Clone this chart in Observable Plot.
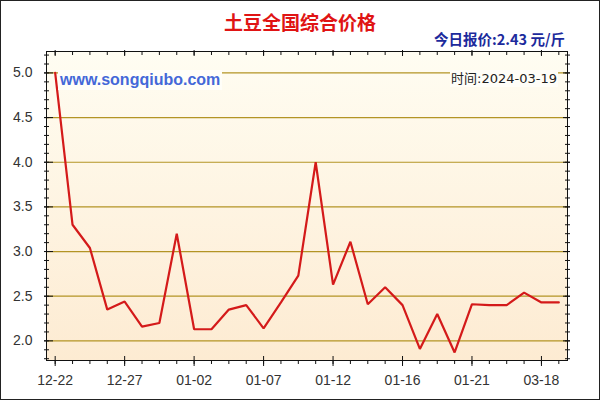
<!DOCTYPE html>
<html><head><meta charset="utf-8">
<script src="https://cdn.jsdelivr.net/npm/d3@7"></script>
<script src="https://cdn.jsdelivr.net/npm/@observablehq/plot@0.6"></script>
<style>
body{margin:0;background:#fff;}
#wrap{position:relative;width:600px;height:400px;overflow:hidden;background:#fff;font-family:"Liberation Sans",Arial,sans-serif;}
#chart{position:absolute;left:0;top:0;}
.abs{position:absolute;white-space:nowrap;}
#title{left:0;width:600px;top:10px;text-align:center;font:bold 19px "Noto Sans CJK SC",sans-serif;color:#e01414;line-height:24px;}
#sub{right:35px;top:29px;font:bold 14.5px "Noto Sans CJK SC","Liberation Sans",sans-serif;color:#1c2a9c;line-height:20px;}
#www{left:58px;top:70px;padding:0 2px;background:#fffef8;font:bold 16px "Liberation Sans",Arial,sans-serif;color:#4468d8;line-height:20px;}
#time{right:42px;top:70px;padding:0 1px;background:#fffef8;font:13px "DejaVu Sans","Noto Sans CJK SC",sans-serif;color:#222;line-height:17px;}
#border{position:absolute;left:0;top:0;width:598px;height:398px;border:1px solid #222;pointer-events:none;}
</style></head><body>
<div id="wrap">
  <div id="chart"></div>
  <div id="title" class="abs"></div>
  <div id="sub" class="abs"></div>
  <div id="www" class="abs"></div>
  <div id="time" class="abs"></div>
  <div id="border"></div>
</div>
<script>
const titleText = "土豆全国综合价格";
const siteText = "www.songqiubo.com";
const todayPrice = 2.43;
const dateStr = "2024-03-19";
const tickLabels = ["12-22","12-27","01-02","01-07","01-12","01-16","01-21","03-18"];
const prices = [5.00,3.30,3.04,2.35,2.44,2.16,2.20,3.20,2.13,2.13,
                2.35,2.40,2.14,2.43,2.73,4.00,2.63,3.11,2.41,2.60,
                2.40,1.91,2.30,1.87,2.41,2.40,2.40,2.54,2.43,2.43];
const labelStep = 4;
const yMajor = [2.0,2.5,3.0,3.5,4.0,4.5,5.0];
const yMinor = d3.range(18, 53).map(d => d / 10);

document.getElementById("title").textContent = titleText;
document.getElementById("sub").textContent = "今日报价:" + todayPrice.toFixed(2) + " 元/斤";
document.getElementById("www").textContent = siteText;
document.getElementById("time").textContent = "时间:" + dateStr;

const data = prices.map((v, i) => ({i, v}));
const xAll = d3.range(prices.length);
const xMajor = xAll.filter(i => i % labelStep === 0);
const gridColor = "#b39424";
const empty = () => "";

const plot = Plot.plot({
  width: 600, height: 400,
  marginLeft: 46, marginRight: 33, marginTop: 51, marginBottom: 40,
  x: {domain: [-0.5, prices.length - 0.5]},
  y: {domain: [1.78, 5.24]},
  style: {fontFamily: '"Liberation Sans",Arial,sans-serif', fontSize: "14px", color: "#333", background: "transparent", overflow: "visible"},
  marks: [
    Plot.frame({fill: "url(#bgGrad)", stroke: null}),
    Plot.gridY(yMajor, {stroke: gridColor, strokeOpacity: 1, strokeWidth: 1.2}),
    Plot.lineY(data, {x: "i", y: "v", stroke: "#d41a1a", strokeWidth: 2.2, strokeLinejoin: "miter"}),
    Plot.frame({stroke: "#111", strokeWidth: 1}),
    // left ticks
    Plot.axisY(yMinor, {anchor: "left", tickSize: 5, dx: 3, tickFormat: empty, label: null, stroke: "#111"}),
    Plot.axisY(yMajor, {anchor: "left", tickSize: 9, dx: 7, tickFormat: empty, label: null, stroke: "#111"}),
    Plot.axisY(yMajor, {anchor: "left", tickSize: 0, tickPadding: 14, tickFormat: d => d.toFixed(1), label: null, fill: "#333"}),
    // right ticks
    Plot.axisY(yMinor, {anchor: "right", tickSize: 5, dx: -3, tickFormat: empty, label: null, stroke: "#111"}),
    Plot.axisY(yMajor, {anchor: "right", tickSize: 7, dx: -5, tickFormat: empty, label: null, stroke: "#111"}),
    // bottom ticks
    Plot.axisX(xAll, {anchor: "bottom", tickSize: 4, tickFormat: empty, label: null, stroke: "#111"}),
    Plot.axisX(xMajor, {anchor: "bottom", tickSize: 10, dy: -4, tickFormat: empty, label: null, stroke: "#111"}),
    Plot.axisX(xMajor, {anchor: "bottom", tickSize: 0, tickPadding: 15, tickFormat: i => tickLabels[i / labelStep], label: null, fill: "#333"}),
    // top ticks
    Plot.axisX(xAll, {anchor: "top", tickSize: 4, dy: 3, tickFormat: empty, label: null, stroke: "#111"}),
    Plot.axisX(xMajor, {anchor: "top", tickSize: 6, dy: 4, tickFormat: empty, label: null, stroke: "#111"})
  ]
});

d3.select(plot).insert("defs", ":first-child").html(
  '<linearGradient id="bgGrad" x1="0" y1="0" x2="0" y2="1">' +
  '<stop offset="0" stop-color="#fffdf2"/>' +
  '<stop offset="1" stop-color="#fdebd2"/>' +
  '</linearGradient>'
);
document.getElementById("chart").appendChild(plot);
</script>
</body></html>
